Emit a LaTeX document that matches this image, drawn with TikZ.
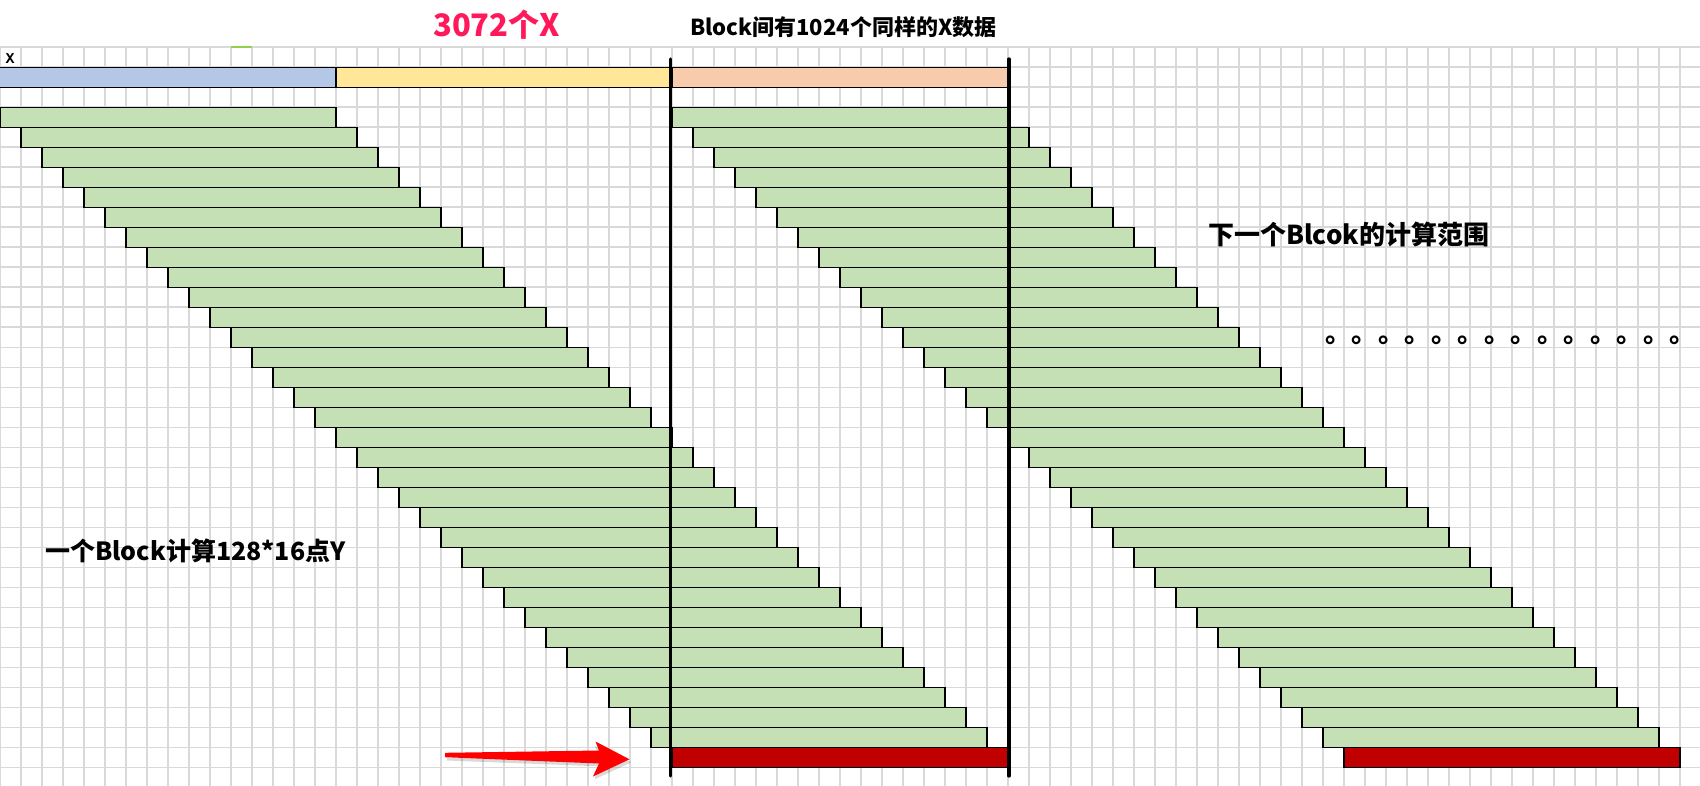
\documentclass[tikz,border=0pt]{standalone}
\usepackage{fontspec}
\setmainfont{Noto Sans CJK SC}
\newfontfamily\monofont{Liberation Mono}
\usetikzlibrary{calc}
\definecolor{gridgray}{RGB}{217,217,217}
\definecolor{xblue}{RGB}{180,199,231}
\definecolor{xyellow}{RGB}{255,230,153}
\definecolor{xsalmon}{RGB}{248,203,173}
\definecolor{ygreen}{RGB}{197,224,180}
\definecolor{yred}{RGB}{192,0,0}
\definecolor{titlepink}{RGB}{255,25,90}
\definecolor{headgreen}{RGB}{146,208,80}

\tikzset{
  gridline/.style={draw=gridgray, line width=1.6pt},
  cellbar/.style={draw=black, line width=1.5pt},
  blockline/.style={line width=3.2pt, line cap=round},
  lbl/.style={inner sep=0pt, anchor=base west, font=\bfseries\fontsize{#1}{#1}\selectfont},
}

\begin{document}
\begin{tikzpicture}[x=1pt, y=-1pt]
    \fill[white] (0,0) rectangle (1700,786);
    \useasboundingbox (0,0) rectangle (1700,786);
    % sheet grid
    \foreach \c in {0,...,81}
        \draw[gridline] (21*\c,47.3) -- (21*\c,786);
    \foreach \r in {0,...,36}
        \draw[gridline] (0,47.3+20*\r) -- (1700,47.3+20*\r);
    \draw[headgreen, line width=1.6pt] (231,47.3) -- (252,47.3);
    \node[inner sep=0pt, anchor=base west, font=\monofont\bfseries\fontsize{15pt}{15pt}\selectfont] (xlabel) at (5.5,64) {X};
    % X data
    \draw[cellbar, fill=xblue] (-2,67.3) rectangle (336,87.3);
    \draw[cellbar, fill=xyellow] (336,67.3) rectangle (672,87.3);
    \draw[cellbar, fill=xsalmon] (672,67.3) rectangle (1008,87.3);
    % Y rows of two blocks
    \foreach \k in {0,...,31} {
        \draw[cellbar, fill=ygreen] (21*\k,107.3+20*\k) rectangle (21*\k+336,127.3+20*\k);
        \draw[cellbar, fill=ygreen] (672+21*\k,107.3+20*\k) rectangle (1008+21*\k,127.3+20*\k);
    }
    \draw[cellbar, fill=yred] (672,747.3) rectangle (1008,767.3);
    \draw[cellbar, fill=yred] (1344,747.3) rectangle (1680,767.3);
    \draw[blockline] (670.5,59) -- (670.5,776);
    \draw[blockline] (1009,59) -- (1009,776);
    % arrow
    \coordinate (arrowtail) at (445,755);
    \coordinate (arrowtip) at (629.5,759.3);
    \fill[black, opacity=0.15] ($(arrowtail)+(2,3)$) -- ++(151,-3) -- ++(-3,-9) -- ($(arrowtip)+(2,3)$) -- ++(-37,17) -- ++(4,-13) -- ($(arrowtail)+(2,5.5)$) -- cycle;
    \fill[red] ($(arrowtail)+(0,-2.2)$) -- (599,750.5) -- (595.5,741.5) -- (arrowtip) -- (593,776.5) -- (599,763.5) -- ($(arrowtail)+(0,2.2)$) -- cycle;
    % labels
    \node[lbl=31pt, text=titlepink] (xcount) at (433,36.7) {3072个X};
    \node[lbl=22pt] (sharedx) at (690,36) {Block间有1024个同样的X数据};
    \node[lbl=26pt] (nextblock) at (1208,245) {下一个Blcok的计算范围};
    \node[lbl=25pt] (blockcalc) at (45,560) {一个Block计算128*16点Y};
    \node[lbl=26.5pt] (dots) at (1325,342) {。。。。。。。。。。。。。。};
\end{tikzpicture}
\end{document}
